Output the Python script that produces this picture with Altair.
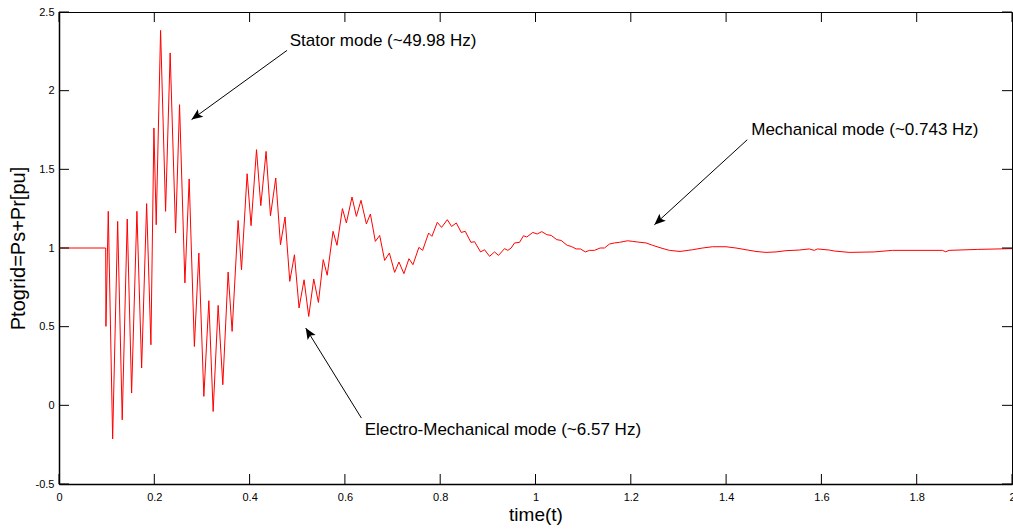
import math
import altair as alt
import pandas as pd

# ---- series (time in s, power in pu) ----
time_s = [
    0.0, 0.098, 0.0985, 0.1034, 0.1126, 0.1231, 0.1327, 0.1432, 0.1524, 0.1635,
    0.1734, 0.1839, 0.1929, 0.1992, 0.2040, 0.2132, 0.2237, 0.2333, 0.2447, 0.2530,
    0.2642, 0.2732, 0.2841, 0.2935, 0.3040, 0.3145, 0.3235, 0.3340, 0.3438, 0.3549,
    0.3633, 0.3759, 0.3830, 0.3948, 0.4031, 0.4145, 0.4235, 0.4346, 0.4438, 0.4549,
    0.4648, 0.4744, 0.4843, 0.4941, 0.5038, 0.5143, 0.5241, 0.5346, 0.5444, 0.5545,
    0.5629, 0.5751, 0.5834, 0.5948, 0.6031, 0.6149, 0.6241, 0.6338, 0.6451, 0.6535,
    0.6639, 0.6730, 0.6834, 0.6933, 0.7044, 0.7134, 0.7239, 0.7344, 0.7428, 0.7553,
    0.7631, 0.7757, 0.7826, 0.7939, 0.8029, 0.8149, 0.8239, 0.8338, 0.8442, 0.8526,
    0.8644, 0.8721, 0.8847, 0.8931, 0.9036, 0.9140, 0.9224, 0.9350, 0.9419, 0.9490,
    0.9560, 0.9665, 0.9748, 0.9818, 0.9943, 1.0036, 1.0132, 1.0237, 1.0329, 1.0447,
    1.0539, 1.0665, 1.0748, 1.0853, 1.0943, 1.1048, 1.1132, 1.1237, 1.1356, 1.1447,
    1.1551, 1.1656, 1.1761, 1.1935, 1.2040, 1.2145, 1.2321, 1.2459, 1.2635, 1.2809,
    1.3033, 1.3298, 1.3507, 1.3717, 1.3998, 1.4207, 1.4417, 1.4627, 1.4836, 1.5046,
    1.5256, 1.5535, 1.5744, 1.5849, 1.5918, 1.6164, 1.6268, 1.6583, 1.7107, 1.7491,
    1.8539, 1.8610, 1.8679, 1.9273, 2.0,
]
p_grid = [
    1.0, 1.0, 0.502, 1.233, -0.214, 1.169, -0.092, 1.184, 0.078, 1.233,
    0.237, 1.282, 0.385, 1.763, 1.148, 2.383, 1.233, 2.240, 1.095, 1.911,
    0.778, 1.439, 0.374, 0.968, 0.057, 0.665, -0.039, 0.635, 0.131, 0.847,
    0.470, 1.175, 0.862, 1.472, 1.142, 1.625, 1.269, 1.614, 1.205, 1.445,
    1.021, 1.197, 0.788, 0.957, 0.619, 0.798, 0.565, 0.803, 0.654, 0.926,
    0.827, 1.106, 1.017, 1.250, 1.159, 1.324, 1.201, 1.303, 1.153, 1.216,
    1.042, 1.080, 0.921, 0.968, 0.845, 0.911, 0.837, 0.932, 0.894, 1.004,
    0.985, 1.095, 1.074, 1.163, 1.131, 1.180, 1.137, 1.159, 1.099, 1.106,
    1.036, 1.040, 0.975, 0.989, 0.947, 0.975, 0.953, 0.996, 0.985, 1.000,
    1.032, 1.036, 1.078, 1.070, 1.099, 1.089, 1.104, 1.085, 1.080, 1.053,
    1.048, 1.017, 1.010, 0.994, 0.994, 0.975, 0.985, 0.985, 1.000, 1.000,
    1.025, 1.032, 1.036, 1.046, 1.042, 1.038, 1.032, 1.017, 1.000, 0.985,
    0.978, 0.989, 1.000, 1.008, 1.008, 1.000, 0.989, 0.978, 0.972, 0.975,
    0.983, 0.987, 0.994, 0.985, 0.994, 0.987, 0.981, 0.972, 0.975, 0.985,
    0.985, 0.976, 0.985, 0.991, 0.996,
]

x_ticks = [0, 0.2, 0.4, 0.6, 0.8, 1, 1.2, 1.4, 1.6, 1.8, 2]
y_ticks = [-0.5, 0, 0.5, 1, 1.5, 2, 2.5]

# annotations: text, text anchor, arrow tail, arrow tip (data coordinates)
ann_text = ["Stator mode (~49.98 Hz)", "Electro-Mechanical mode (~6.57 Hz)",
            "Mechanical mode (~0.743 Hz)"]
ann_tx = [0.4843, 0.6415, 1.4528]
ann_ty = [2.313, -0.155, 1.752]
arr_t0 = [0.4786, 0.6346, 1.4444]
arr_v0 = [2.256, -0.081, 1.688]
arr_t1 = [0.2782, 0.5178, 1.2495]
arr_v1 = [1.816, 0.491, 1.148]

W, H = 953, 472
X_DOM = [0, 2]
Y_DOM = [-0.5, 2.5]
FONT = "Liberation Sans"

xs = alt.Scale(domain=X_DOM, nice=False, zero=False)
ys = alt.Scale(domain=Y_DOM, nice=False, zero=False)

df = pd.DataFrame({"t": time_s, "v": p_grid})

angles = []
for a, b, c, d in zip(arr_t0, arr_v0, arr_t1, arr_v1):
    dx = (c - a) * W / (X_DOM[1] - X_DOM[0])
    dy = -(d - b) * H / (Y_DOM[1] - Y_DOM[0])
    angles.append(math.degrees(math.atan2(dx, -dy)) % 360)

arr = pd.DataFrame({"t": arr_t0, "v": arr_v0, "t2": arr_t1, "v2": arr_v1})
heads = pd.DataFrame({"t": arr_t1, "v": arr_v1, "ang": angles})
txt = pd.DataFrame({"t": ann_tx, "v": ann_ty, "label": ann_text})
xt = pd.DataFrame({"t": x_ticks})
yt = pd.DataFrame({"v": y_ticks})

line = alt.Chart(df).mark_line(color="#ff0000", strokeWidth=1).encode(
    x=alt.X("t:Q", scale=xs,
            axis=alt.Axis(values=x_ticks, labelExpr="'' + datum.value",
                          title="time(t)", titleFontSize=19, titleY=30,
                          titleBaseline="middle", labelPadding=7)),
    y=alt.Y("v:Q", scale=ys,
            axis=alt.Axis(values=y_ticks, labelExpr="'' + datum.value",
                          title="Ptogrid=Ps+Pr[pu]", titleFontSize=20,
                          titleX=-41, titleY=H / 2, titleAngle=270,
                          titleBaseline="middle", titleAlign="center",
                          labelPadding=5)),
)

tick_b = alt.Chart(xt).mark_rule(color="black", strokeWidth=1).encode(
    x=alt.X("t:Q", scale=xs), y=alt.value(H), y2=alt.value(H - 10))
tick_t = alt.Chart(xt).mark_rule(color="black", strokeWidth=1).encode(
    x=alt.X("t:Q", scale=xs), y=alt.value(0), y2=alt.value(10))
tick_l = alt.Chart(yt).mark_rule(color="black", strokeWidth=1).encode(
    y=alt.Y("v:Q", scale=ys), x=alt.value(0), x2=alt.value(10))
tick_r = alt.Chart(yt).mark_rule(color="black", strokeWidth=1).encode(
    y=alt.Y("v:Q", scale=ys), x=alt.value(W - 10), x2=alt.value(W))

arrows = alt.Chart(arr).mark_rule(color="black", strokeWidth=1).encode(
    x=alt.X("t:Q", scale=xs), y=alt.Y("v:Q", scale=ys), x2="t2:Q", y2="v2:Q")

head_path = "M0,0 L0.42,1 L0,0.78 L-0.42,1 Z"
arrow_heads = alt.Chart(heads).mark_point(
    shape=head_path, filled=True, color="black", opacity=1, size=500, strokeWidth=0
).encode(
    x=alt.X("t:Q", scale=xs), y=alt.Y("v:Q", scale=ys),
    angle=alt.Angle("ang:Q", scale=None))

labels = alt.Chart(txt).mark_text(
    align="left", baseline="middle", font=FONT, fontSize=17, color="black"
).encode(x=alt.X("t:Q", scale=xs), y=alt.Y("v:Q", scale=ys), text="label:N")

chart = alt.layer(line, tick_b, tick_t, tick_l, tick_r, arrows, arrow_heads, labels).properties(
    width=W, height=H,
    autosize=alt.AutoSizeParams(type="none"),
    padding={"left": 59, "top": 12, "right": 1, "bottom": 45},
    background="white",
).configure_view(
    stroke="black", strokeWidth=1
).configure_axis(
    grid=False, ticks=False, domain=True, domainColor="black", domainWidth=1.5,
    labelFont=FONT, labelFontSize=11, labelColor="black", labelFlush=False,
    titleFont=FONT, titleFontWeight="normal", titleColor="black",
)

chart.save("out.html", embed_options={"renderer": "svg", "actions": False})
